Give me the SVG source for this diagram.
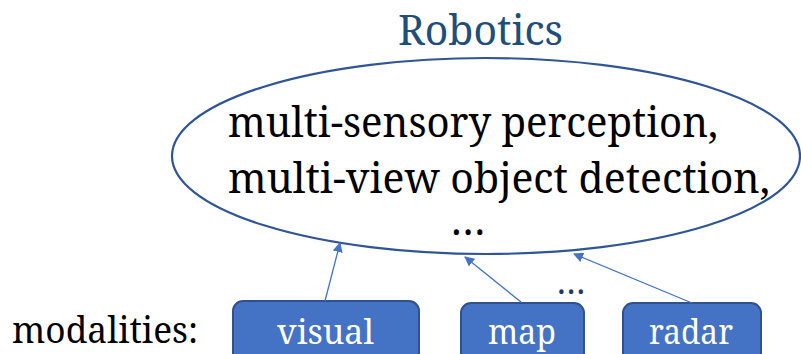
<svg xmlns="http://www.w3.org/2000/svg" width="801" height="354" viewBox="0 0 801 354">
  <defs>
    <marker id="arrow" viewBox="0 0 10 10" refX="9" refY="5" markerWidth="10" markerHeight="10" markerUnits="userSpaceOnUse" orient="auto">
      <path d="M0,0 L10,5 L0,10 z" fill="#4472C4"/>
    </marker>
  </defs>
  <rect width="801" height="354" fill="#FFFFFF"/>

  <!-- application area and its tasks -->
  <g id="robotics">
    <text font-family="Noto Serif" font-size="41" fill="#1F4E79" x="398" y="45" textLength="165" lengthAdjust="spacingAndGlyphs">Robotics</text>
    <ellipse cx="486" cy="156" rx="314" ry="98" fill="#FFFFFF" stroke="#2F5597" stroke-width="2.2"/>
    <text font-family="Noto Serif" font-size="41" fill="#000000" x="228" y="137" textLength="490" lengthAdjust="spacingAndGlyphs">multi-sensory perception,</text>
    <text font-family="Noto Serif" font-size="41" fill="#000000" x="228" y="193" textLength="542" lengthAdjust="spacingAndGlyphs">multi-view object detection,</text>
    <text font-family="Noto Serif" font-size="41" fill="#000000" x="468" y="235" text-anchor="middle">…</text>
  </g>

  <g id="modalities-label">
    <text font-family="Noto Serif" font-size="37" fill="#000000" x="12" y="343" textLength="186" lengthAdjust="spacingAndGlyphs">modalities:</text>
  </g>

  <!-- input modalities -->
  <g id="visual">
    <rect x="233" y="301" width="186" height="62" rx="10" fill="#4472C4" stroke="#2F528F" stroke-width="2"/>
    <text font-family="Noto Serif" font-size="35" fill="#FFFFFF" x="277" y="344" textLength="97" lengthAdjust="spacingAndGlyphs">visual</text>
  </g>
  <g id="map">
    <rect x="461" y="303" width="123" height="60" rx="10" fill="#4472C4" stroke="#2F528F" stroke-width="2"/>
    <text font-family="Noto Serif" font-size="35" fill="#FFFFFF" x="488" y="344" textLength="68" lengthAdjust="spacingAndGlyphs">map</text>
  </g>
  <g id="radar">
    <rect x="623" y="303" width="138" height="60" rx="10" fill="#4472C4" stroke="#2F528F" stroke-width="2"/>
    <text font-family="Noto Serif" font-size="35" fill="#FFFFFF" x="649" y="344" textLength="84" lengthAdjust="spacingAndGlyphs">radar</text>
  </g>
  <g id="more-modalities">
    <text font-family="Noto Serif" font-size="34" fill="#203864" text-anchor="middle" x="571" y="294">…</text>
  </g>

  <g id="connectors" stroke="#4472C4" stroke-width="1.3" fill="none">
    <line x1="325" y1="301" x2="340" y2="243" marker-end="url(#arrow)"/>
    <line x1="521" y1="302" x2="465" y2="257" marker-end="url(#arrow)"/>
    <line x1="692" y1="303" x2="574" y2="254" marker-end="url(#arrow)"/>
  </g>
</svg>
